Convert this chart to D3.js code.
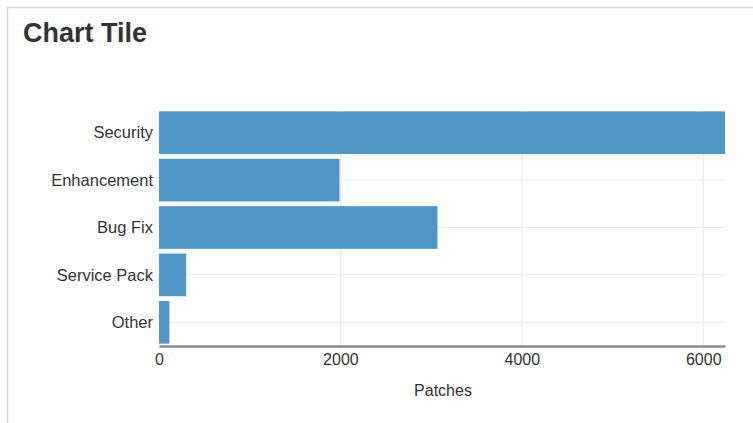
<!DOCTYPE html>
<html>
<head>
<meta charset="utf-8">
<script src="https://cdn.jsdelivr.net/npm/d3@7"></script>
<style>
  html, body { margin: 0; padding: 0; background: #fff; }
  svg { display: block; font-family: "Liberation Sans", Arial, sans-serif; }
</style>
</head>
<body>
<svg id="chart" width="753" height="423"></svg>
<script>
const categories = ["Security", "Enhancement", "Bug Fix", "Service Pack", "Other"];
const patches = [6240, 1990, 3070, 300, 115];
const xTicks = [0, 2000, 4000, 6000];
const title = "Chart Tile";
const xLabel = "Patches";

const svg = d3.select("#chart");

// card border (top and left visible)
svg.append("path")
  .attr("d", "M7.5,423 L7.5,7.5 L753,7.5")
  .attr("fill", "none")
  .attr("stroke", "#d9d9d9")
  .attr("stroke-width", 1.5);

svg.append("text")
  .attr("x", 23).attr("y", 42)
  .attr("font-size", 27).attr("font-weight", "bold")
  .attr("fill", "#333")
  .text(title);

const x = d3.scaleLinear().domain([0, d3.max(patches)]).range([159, 725]);
const y = d3.scaleBand().domain(categories).range([109, 346]).paddingInner(0.1).paddingOuter(0.05);

// vertical gridlines
svg.append("g").selectAll("line").data(xTicks.filter(d => d > 0)).join("line")
  .attr("x1", d => x(d)).attr("x2", d => x(d))
  .attr("y1", 110).attr("y2", 346)
  .attr("stroke", "#e6e6e6").attr("stroke-width", 1);

// horizontal gridlines at band centers
svg.append("g").selectAll("line").data(categories).join("line")
  .attr("x1", x(0)).attr("x2", 725)
  .attr("y1", d => y(d) + y.bandwidth() / 2).attr("y2", d => y(d) + y.bandwidth() / 2)
  .attr("stroke", "#ececec").attr("stroke-width", 1);

// bars
svg.append("g").selectAll("rect").data(categories).join("rect")
  .attr("x", x(0))
  .attr("y", d => y(d))
  .attr("width", (d, i) => x(patches[i]) - x(0))
  .attr("height", y.bandwidth())
  .attr("fill", "#5096c6");

// category labels
svg.append("g").selectAll("text").data(categories).join("text")
  .attr("x", 153)
  .attr("y", d => y(d) + y.bandwidth() / 2)
  .attr("dy", "0.35em")
  .attr("text-anchor", "end")
  .attr("font-size", 16.5)
  .attr("fill", "#333")
  .text(d => d);

// x axis
const xAxis = d3.axisBottom(x).tickValues(xTicks).tickSize(0).tickPadding(8).tickFormat(d3.format("d"));
const ax = svg.append("g").attr("transform", "translate(0,346)").call(xAxis);
ax.select(".domain").attr("stroke", "#8a8a8a").attr("stroke-width", 2.5);
ax.selectAll(".tick text")
  .attr("font-size", 16).attr("fill", "#333")
  .attr("font-family", "Liberation Sans, Arial, sans-serif");

svg.append("text")
  .attr("x", (x(0) + 725) / 2 + 1).attr("y", 396)
  .attr("text-anchor", "middle")
  .attr("font-size", 16).attr("fill", "#333")
  .text(xLabel);
</script>
</body>
</html>
